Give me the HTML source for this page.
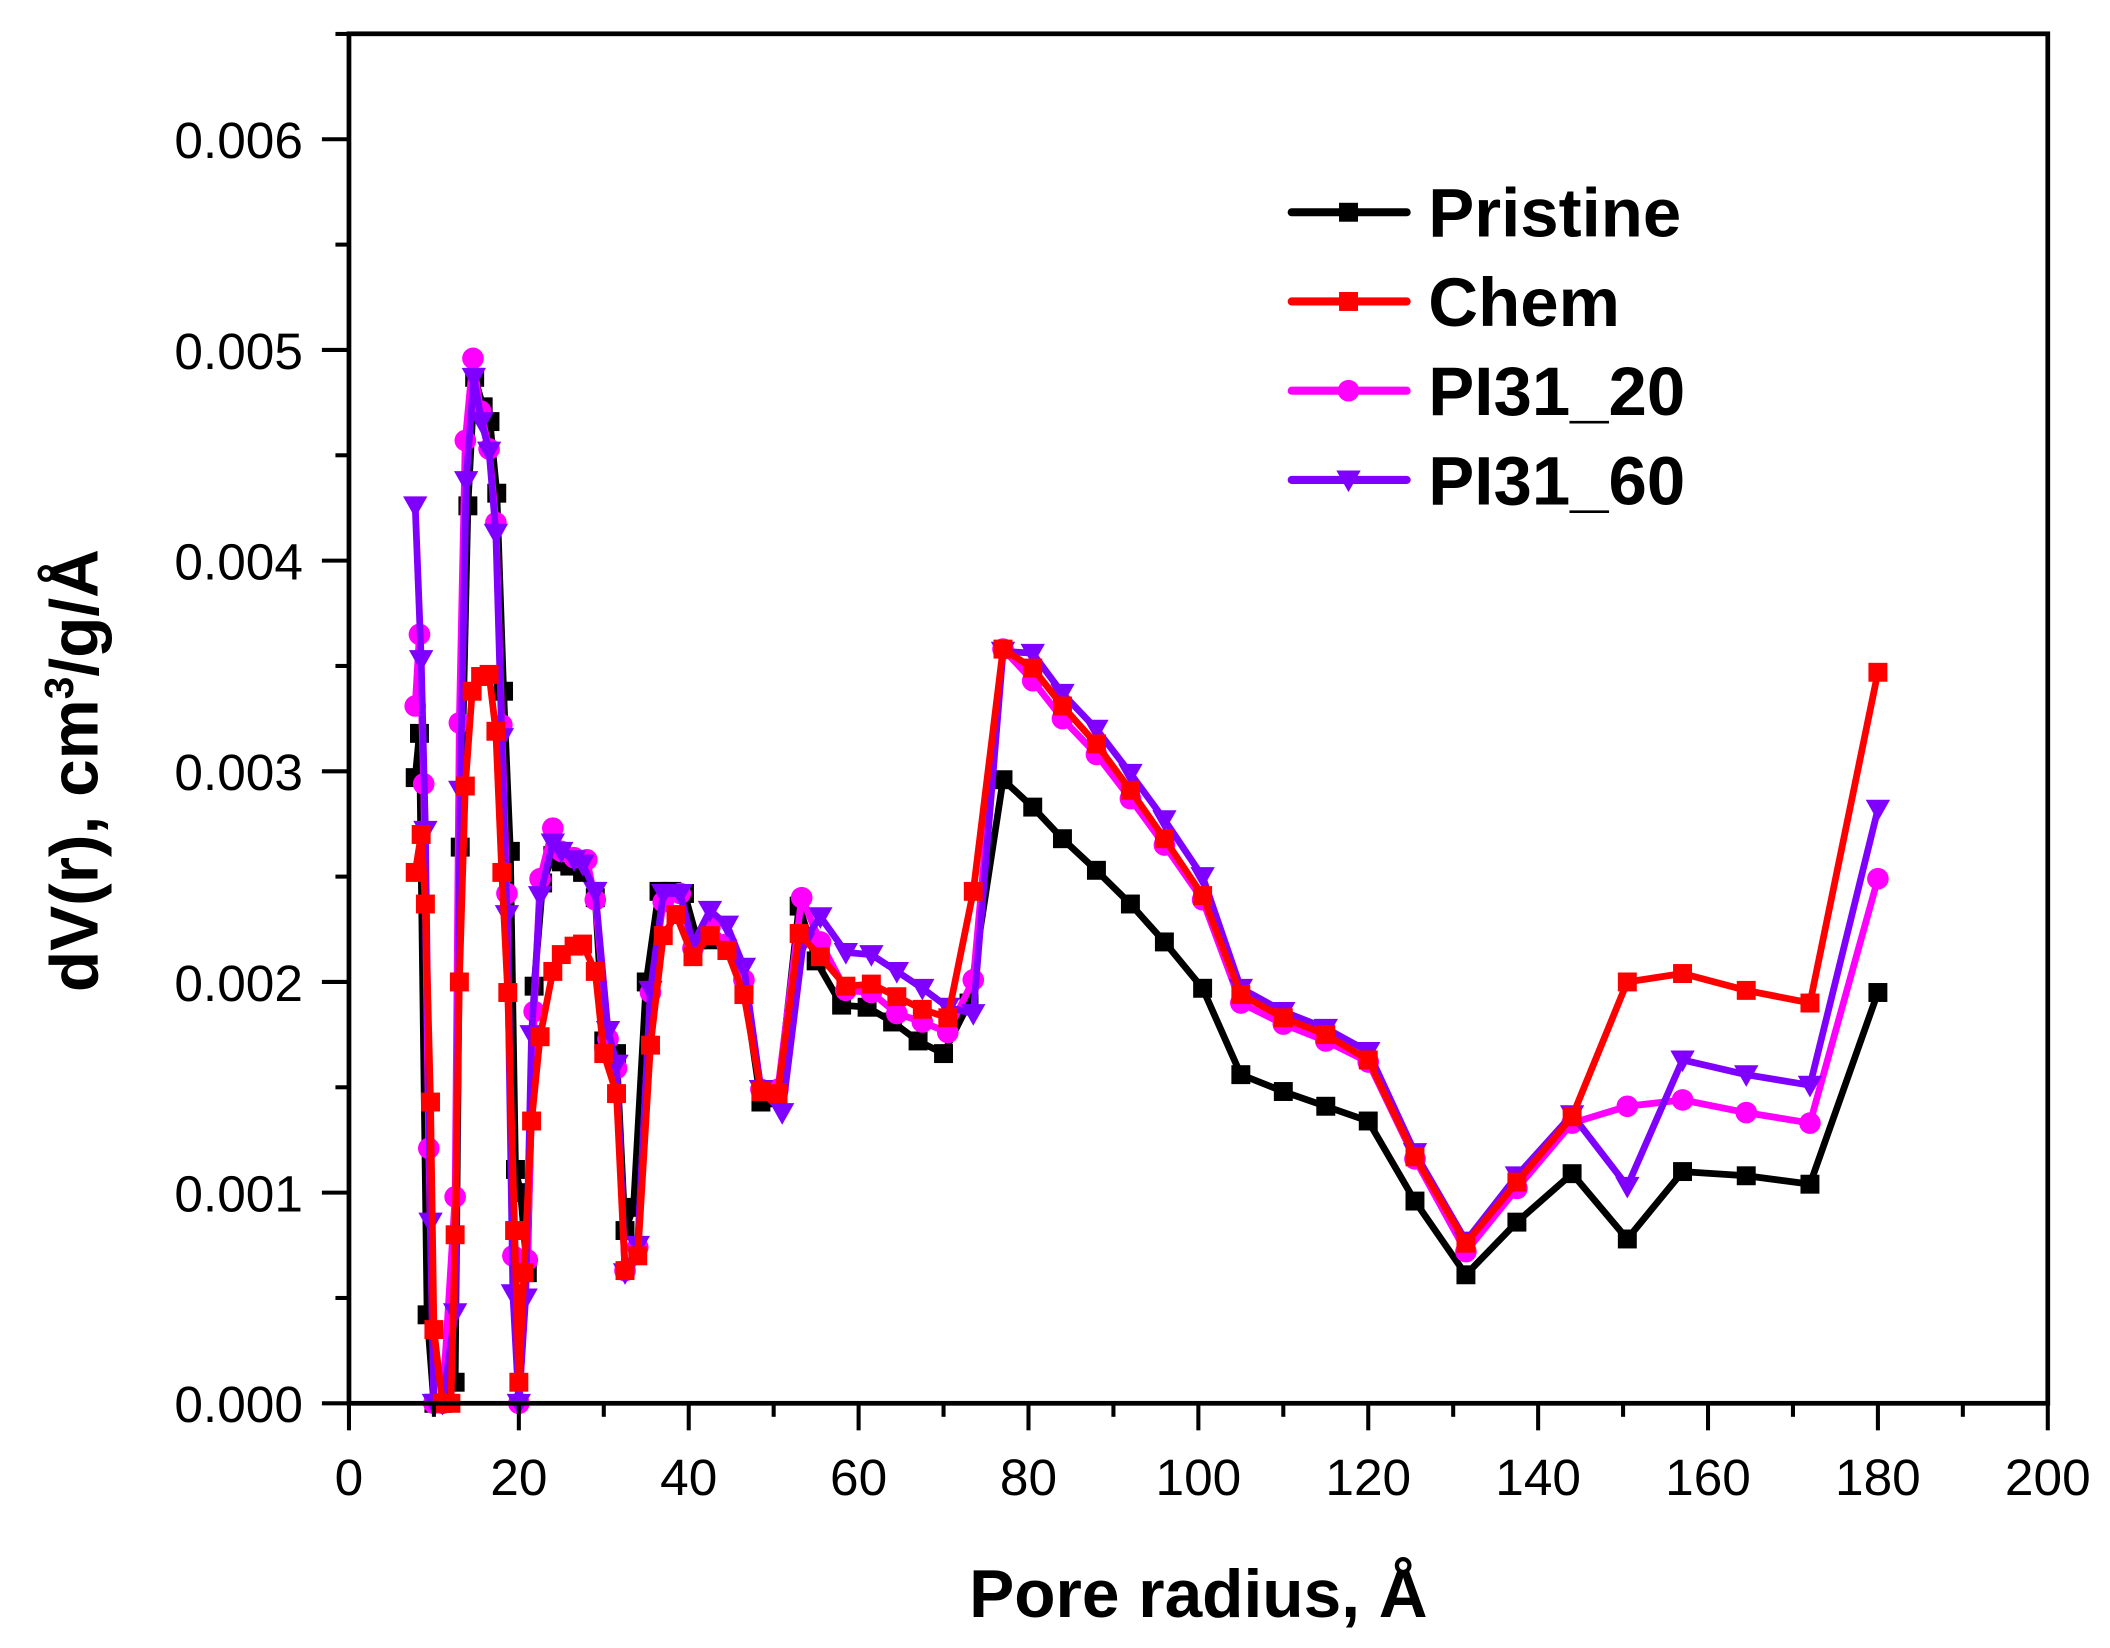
<!DOCTYPE html>
<html><head><meta charset="utf-8"><style>
html,body{margin:0;padding:0;background:#fff;}
svg{display:block;}
text{font-family:"Liberation Sans",Arial,sans-serif;}
</style></head><body>
<svg id="s" xmlns="http://www.w3.org/2000/svg" width="2110" height="1648" viewBox="0 0 1560 1219" preserveAspectRatio="none">
<rect width="1560" height="1219" fill="#fff"/>
<g id="plot"></g>
<rect x="258" y="25" width="1256" height="1013" fill="none" stroke="#000" stroke-width="3.5"/>
<g id="ticks" stroke="#000" stroke-width="3"></g>
<g font-size="38" text-anchor="end" id="ylab"></g>
<g font-size="38" text-anchor="middle" id="xlab"></g>
<text x="886" y="1196" font-size="50" font-weight="bold" text-anchor="middle">Pore radius, Å</text>
<text transform="translate(72,570) rotate(-90)" font-size="50" font-weight="bold" text-anchor="middle">dV(r), cm<tspan font-size="30" dy="-18">3</tspan><tspan dy="18">/g/Å</tspan></text>
<g id="legend" font-size="51" font-weight="bold"></g>
</svg>
<script>
var X=function(v){return 258+v*6.28;},Y=function(v){return 1038-v*155.83;};
var NS="http://www.w3.org/2000/svg";
function el(p,n,a,t){var e=document.createElementNS(NS,n);for(var k in a)e.setAttribute(k,a[k]);if(t!==undefined)e.textContent=t;p.appendChild(e);return e;}
var tk=document.getElementById('ticks');
for(var i=0;i<=20;i++){var x=X(i*10);el(tk,'line',{x1:x,y1:1038,x2:x,y2:1038+(i%2?10:20)});}
for(var i=0;i<=13;i++){var y=Y(i*0.5);if(y<25)continue;el(tk,'line',{x1:258,y1:y,x2:258-(i%2?10:20),y2:y});}
var yl=document.getElementById('ylab');for(var i=0;i<=6;i++)el(yl,'text',{x:224,y:Y(i)+14},'0.00'+i);
var xl=document.getElementById('xlab');for(var i=0;i<=10;i++)el(xl,'text',{x:X(i*20),y:1106},''+i*20);
var P=[[7.8,2.97],[8.3,3.18],[9.2,.42],[10,0],[11,0],[12.5,.1],[13.1,2.64],[14,4.26],[14.8,4.87],[15.8,4.73],[16.6,4.66],[17.4,4.32],[18.2,3.38],[19,2.62],[19.6,1.11],[20.2,1.0],[21,.62],[21.8,1.98],[22.8,2.47],[24,2.6],[25,2.57],[26,2.55],[27.5,2.52],[29,2.4],[30,1.72],[31.5,1.66],[32.5,.82],[33.5,.93],[35,2.0],[36.5,2.43],[38,2.43],[39.5,2.42],[41,2.2],[42.5,2.2],[44.5,2.15],[46.5,1.98],[48.5,1.43],[50.5,1.45],[53,2.36],[55,2.1],[58,1.89],[61,1.88],[64,1.81],[67,1.72],[70,1.66],[73,1.9],[77,2.96],[80.5,2.83],[84,2.68],[88,2.53],[92,2.37],[96,2.19],[100.5,1.97],[105,1.56],[110,1.48],[115,1.41],[120,1.34],[125.5,.96],[131.5,.61],[137.5,.86],[144,1.09],[150.5,.78],[157,1.1],[164.5,1.08],[172,1.04],[180,1.95]];
var C=[[7.8,2.52],[8.5,2.7],[9,2.37],[9.6,1.43],[10,.35],[11,0],[12,0],[12.5,.8],[13,2.0],[13.7,2.93],[14.5,3.38],[15.5,3.45],[16.5,3.46],[17.3,3.19],[18,2.52],[18.7,1.95],[19.5,.82],[20,.1],[20.6,.62],[21.5,1.34],[22.5,1.74],[24,2.05],[25,2.13],[26.5,2.17],[27.5,2.18],[29,2.05],[30,1.66],[31.5,1.47],[32.5,.63],[34,.7],[35.5,1.7],[37,2.22],[38.5,2.32],[40.5,2.12],[42.5,2.22],[44.5,2.15],[46.5,1.94],[48.5,1.48],[50.5,1.47],[53,2.23],[55.5,2.12],[58.5,1.98],[61.5,1.99],[64.5,1.93],[67.5,1.87],[70.5,1.83],[73.5,2.43],[77,3.58],[80.5,3.49],[84,3.31],[88,3.13],[92,2.91],[96,2.68],[100.5,2.41],[105,1.94],[110,1.83],[115,1.75],[120,1.63],[125.5,1.17],[131.5,.76],[137.5,1.05],[144,1.36],[150.5,2.0],[157,2.04],[164.5,1.96],[172,1.9],[180,3.47]];
var M=[[7.8,3.31],[8.3,3.65],[8.8,2.94],[9.4,1.21],[10,0],[11,0],[12.5,.98],[13,3.23],[13.7,4.57],[14.6,4.96],[15.5,4.71],[16.5,4.53],[17.3,4.18],[18,3.22],[18.6,2.42],[19.3,.7],[20,0],[21,.68],[21.8,1.86],[22.5,2.49],[24,2.73],[25,2.62],[26.5,2.59],[28,2.58],[29,2.39],[30.5,1.73],[31.5,1.59],[32.5,.63],[34,.74],[35.5,1.95],[37,2.38],[39,2.42],[40.5,2.16],[42.5,2.26],[44.5,2.18],[46.5,2.01],[48.5,1.49],[50.5,1.49],[53.3,2.4],[55.5,2.19],[58.5,1.96],[61.5,1.95],[64.5,1.85],[67.5,1.81],[70.5,1.76],[73.5,2.01],[77,3.58],[80.5,3.43],[84,3.25],[88,3.08],[92,2.87],[96,2.65],[100.5,2.39],[105,1.9],[110,1.8],[115,1.72],[120,1.62],[125.5,1.16],[131.5,.72],[137.5,1.02],[144,1.33],[150.5,1.41],[157,1.44],[164.5,1.38],[172,1.33],[180,2.49]];
var V=[[7.8,4.26],[8.5,3.53],[9,2.72],[9.6,.86],[10,0],[11,0],[12.5,.43],[13.1,2.91],[13.8,4.38],[14.7,4.87],[15.6,4.66],[16.5,4.52],[17.3,4.13],[18,3.16],[18.6,2.32],[19.3,.52],[20,0],[20.8,.5],[21.5,1.75],[22.5,2.41],[24,2.66],[25,2.62],[26.5,2.58],[27.5,2.56],[29,2.43],[30.5,1.77],[31.5,1.61],[32.5,.62],[34,.75],[35.5,1.96],[37,2.42],[39,2.42],[40.5,2.18],[42.5,2.34],[44.5,2.27],[46.5,2.07],[48.5,1.49],[51,1.38],[53.5,2.19],[55.5,2.31],[58.5,2.14],[61.5,2.13],[64.5,2.05],[67.5,1.97],[70.5,1.88],[73.5,1.85],[77,3.57],[80.5,3.56],[84,3.37],[88,3.2],[92,2.99],[96,2.77],[100.5,2.5],[105,1.97],[110,1.86],[115,1.78],[120,1.67],[125.5,1.19],[131.5,.77],[137.5,1.08],[144,1.37],[150.5,1.03],[157,1.63],[164.5,1.56],[172,1.51],[180,2.82]];
function mk(g,t,x,y,c){
 if(t=='s')el(g,'rect',{x:x-7,y:y-7,width:14,height:14,fill:c});
 else if(t=='c')el(g,'circle',{cx:x,cy:y,r:8,fill:c});
 else el(g,'polygon',{points:(x-9)+','+(y-7)+' '+(x+9)+','+(y-7)+' '+x+','+(y+9),fill:c});
}
var pl=document.getElementById('plot');
[[P,'#000','s'],[M,'#ff00ff','c'],[V,'#8000ff','t'],[C,'#ff0000','s']].forEach(function(s){
 var g=el(pl,'g',{});
 var d=s[0].map(function(p,i){return (i?'L':'M')+X(p[0]).toFixed(1)+','+Y(p[1]).toFixed(1);}).join('');
 el(g,'path',{d:d,fill:'none',stroke:s[1],'stroke-width':5,'stroke-linejoin':'round'});
 s[0].forEach(function(p){mk(g,s[2],X(p[0]),Y(p[1]),s[1]);});
});
var lg=document.getElementById('legend');
[['Pristine','#000','s'],['Chem','#ff0000','s'],['PI31_20','#ff00ff','c'],['PI31_60','#8000ff','t']].forEach(function(r,i){
 var y=157+i*66;
 el(lg,'line',{x1:955,y1:y,x2:1040,y2:y,stroke:r[1],'stroke-width':6,'stroke-linecap':'round'});
 mk(lg,r[2],997,y,r[1]);
 el(lg,'text',{x:1056,y:y+18},r[0]);
});
</script>
</body></html>
